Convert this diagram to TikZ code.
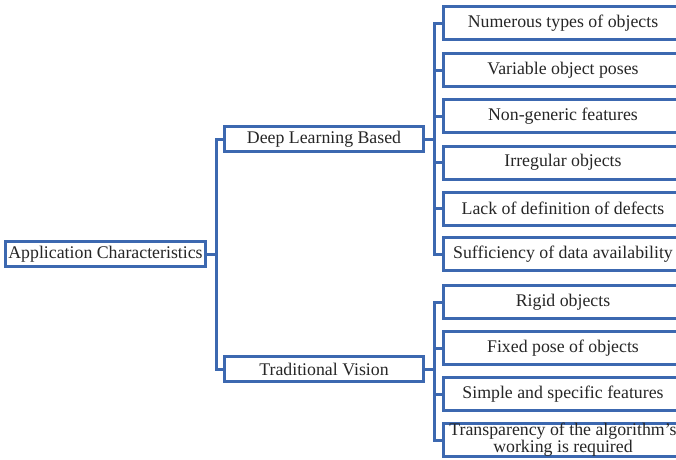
\documentclass[tikz,border=0pt]{standalone}
\usepackage{fontspec}
\setmainfont{Liberation Serif}
\usetikzlibrary{positioning}
\definecolor{boxblue}{RGB}{60,104,176}

\begin{document}
\begin{tikzpicture}[
    x=1pt, y=-1pt,
    box/.style={rectangle, draw=boxblue, line width=3pt, fill=white,
                minimum width=199pt, minimum height=25pt, inner sep=1pt,
                font=\fontsize{17.8}{17.8}\selectfont, text=black!85, align=center},
    item/.style={box, minimum width=239pt, minimum height=33pt},
    link/.style={draw=boxblue, line width=3pt}
]
\useasboundingbox (0,0) rectangle (676,459);
\clip (0,0) rectangle (676,459);

\node[box, minimum width=200pt] (root) at (105.5, 254) {Application Characteristics};
\node[box] (dl) at (324, 139) {Deep Learning Based};
\node[box] (tv) at (324, 369) {Traditional Vision};

% deep learning side
\node[item] (d1) at (563, 23) {Numerous types of objects};
\node[item] (d2) at (563, 70) {Variable object poses};
\node[item] (d3) at (563, 116) {Non-generic features};
\node[item] (d4) at (563, 162.5) {Irregular objects};
\node[item] (d5) at (563, 208.5) {Lack of definition of defects};
\node[item] (d6) at (563, 254) {Sufficiency of data availability};

% traditional side
\node[item] (t1) at (563, 302) {Rigid objects};
\node[item] (t2) at (563, 348) {Fixed pose of objects};
\node[item] (t3) at (563, 394) {Simple and specific features};
\node[item, inner sep=0pt, font=\fontsize{17.8}{15}\selectfont] (t4) at (563, 440)
    {Transparency of the algorithm's\\working is required};

\draw[link] (root.east) -- ++(9.5,0) |- (dl.west);
\draw[link] (root.east) -- ++(9.5,0) |- (tv.west);

\draw[link] (dl.east) -- ++(9.5,0) |- (d1.west);
\draw[link] (dl.east) -- ++(9.5,0) |- (d2.west);
\draw[link] (dl.east) -- ++(9.5,0) |- (d3.west);
\draw[link] (dl.east) -- ++(9.5,0) |- (d4.west);
\draw[link] (dl.east) -- ++(9.5,0) |- (d5.west);
\draw[link] (dl.east) -- ++(9.5,0) |- (d6.west);

\draw[link] (tv.east) -- ++(9.5,0) |- (t1.west);
\draw[link] (tv.east) -- ++(9.5,0) |- (t2.west);
\draw[link] (tv.east) -- ++(9.5,0) |- (t3.west);
\draw[link] (tv.east) -- ++(9.5,0) |- (t4.west);
\end{tikzpicture}
\end{document}
